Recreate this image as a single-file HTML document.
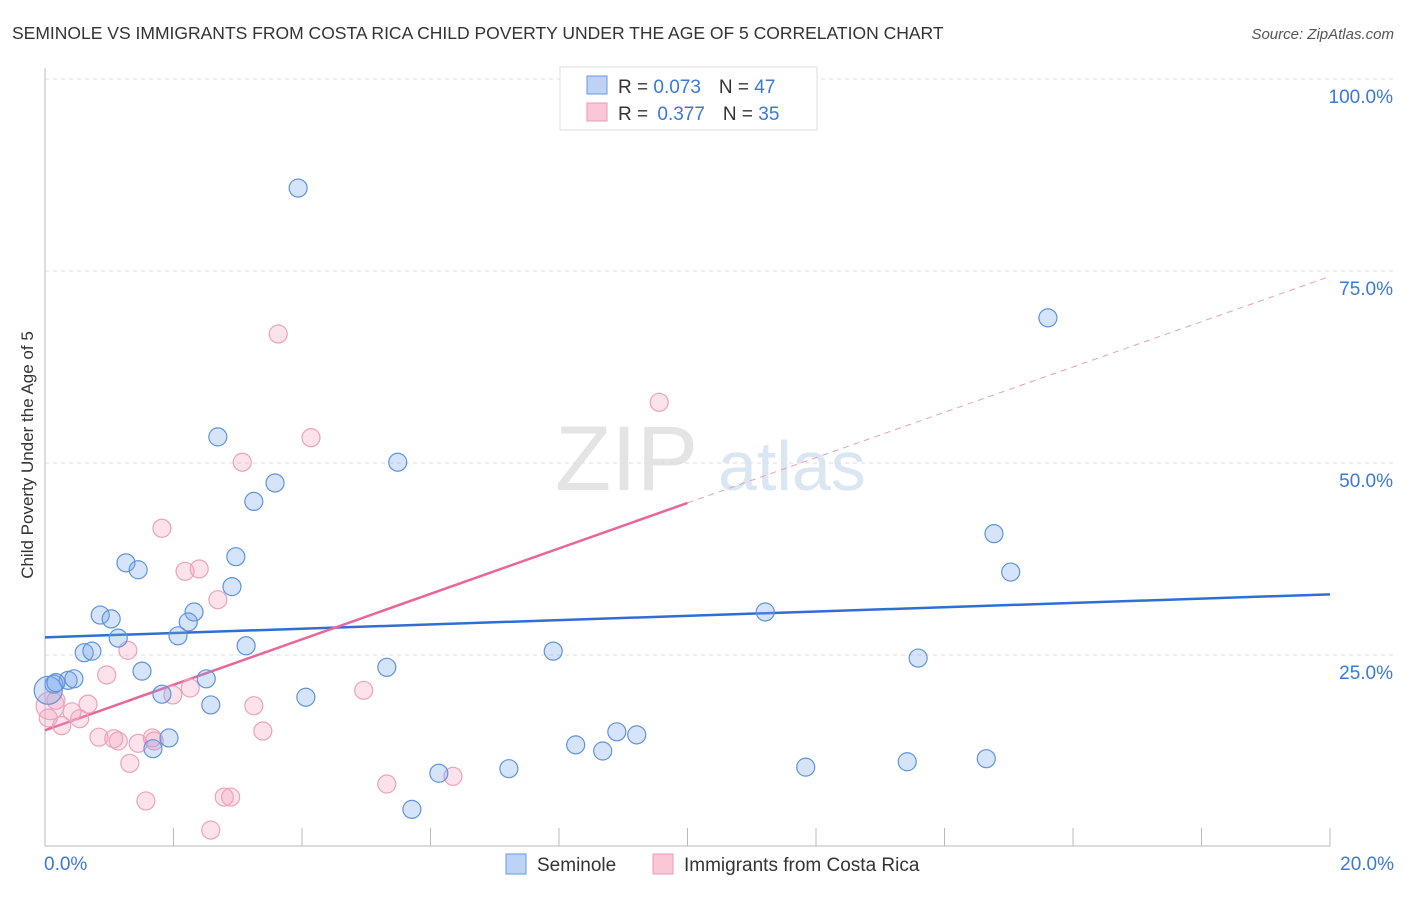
<!DOCTYPE html>
<html><head><meta charset="utf-8"><style>
body{margin:0;background:#fff;font-family:"Liberation Sans",sans-serif;}
svg text{font-family:"Liberation Sans",sans-serif;}
</style></head><body>
<svg id="chart" width="1406" height="892" viewBox="0 0 1406 892" xmlns="http://www.w3.org/2000/svg">
<text x="12" y="39" font-size="17.5" fill="#333">SEMINOLE VS IMMIGRANTS FROM COSTA RICA CHILD POVERTY UNDER THE AGE OF 5 CORRELATION CHART</text>
<text x="1394" y="39" font-size="15" fill="#555" text-anchor="end" font-style="italic">Source: ZipAtlas.com</text>
<text x="555" y="490" font-size="92" fill="#e4e4e4" font-family="Liberation Serif">ZIP</text>
<text x="718" y="490" font-size="70" fill="#dbe6f3">atlas</text>
<g id="grid"></g><g id="axes"></g><g id="lines"></g><g id="points"></g>
<text transform="translate(33,455) rotate(-90)" font-size="17" fill="#333" text-anchor="middle">Child Poverty Under the Age of 5</text>
<g>
<rect x="560" y="67" width="257" height="63" fill="#fff" stroke="#ddd"/>
<rect x="587" y="76" width="20" height="18" fill="#bcd3f5" stroke="#6a9ae0"/>
<rect x="587" y="103" width="20" height="18" fill="#fbc6d6" stroke="#eb9ab5"/>
<text x="618" y="93" font-size="19" fill="#333">R = <tspan fill="#3b78d8">0.073</tspan><tspan dx="18">N = </tspan><tspan fill="#3b78d8">47</tspan></text>
<text x="618" y="120" font-size="19" fill="#333">R = <tspan fill="#3b78d8" dx="4">0.377</tspan><tspan dx="18">N = </tspan><tspan fill="#3b78d8">35</tspan></text>
</g>
<g>
<rect x="506" y="854" width="20" height="20" fill="#bcd3f5" stroke="#6a9ae0"/>
<text x="537" y="871" font-size="19" fill="#333">Seminole</text>
<rect x="653" y="854" width="20" height="20" fill="#fbc6d6" stroke="#eb9ab5"/>
<text x="684" y="871" font-size="19" fill="#333">Immigrants from Costa Rica</text>
</g>
</svg>
<script>
const yTicks=[25,50,75,100];
const yTickLabels=["25.0%","50.0%","75.0%","100.0%"];
const xTicks=[0,2,4,6,8,10,12,14,16,18,20];
const xEndLabels=["0.0%","20.0%"];
const seminoleX=[3.94,2.69,5.49,3.58,3.25,2.97,1.26,1.45,2.91,0.86,2.32,1.03,2.23,1.14,2.07,3.13,0.61,0.73,1.51,5.32,7.91,11.21,15.61,14.77,15.03,13.59,0.36,0.45,0.14,0.05,2.51,1.82,4.06,2.58,1.93,1.68,8.26,8.68,8.90,9.21,6.13,7.22,5.71,11.84,13.42,14.65,0.17];
const seminoleY=[85.8,53.4,50.1,47.4,45.0,37.8,37.0,36.1,33.9,30.2,30.6,29.7,29.3,27.2,27.5,26.2,25.3,25.5,22.9,23.4,25.5,30.6,68.9,40.8,35.8,24.6,21.7,21.9,21.2,20.4,21.9,19.9,19.5,18.5,14.2,12.8,13.3,12.5,15.0,14.6,9.6,10.2,4.9,10.4,11.1,11.5,21.4];
const costaX=[3.63,9.56,4.14,3.07,1.82,2.18,2.40,2.69,1.29,0.96,2.26,1.99,4.96,3.25,3.39,0.67,0.42,0.26,0.54,0.08,0.05,0.84,1.14,1.07,1.45,1.67,1.32,1.70,5.32,6.35,1.57,2.79,2.89,2.58,0.17];
const costaY=[66.8,57.9,53.3,50.1,41.5,35.9,36.2,32.2,25.6,22.4,20.7,19.8,20.4,18.4,15.1,18.6,17.6,15.8,16.7,18.4,16.8,14.3,13.8,14.1,13.5,14.2,10.9,13.8,8.2,9.2,6.0,6.5,6.5,2.2,19.1];
const seminoleTrend=[27.3,32.9];
const costaTrend=[15.2,44.8,74.3];
const X=v=>45+v/20*1285, Y=v=>847-v/100*768;
const NS="http://www.w3.org/2000/svg";
function mk(t,a,p){const e=document.createElementNS(NS,t);for(const k in a)e.setAttribute(k,a[k]);p.appendChild(e);return e;}
const grid=document.getElementById('grid'),axes=document.getElementById('axes'),lines=document.getElementById('lines'),pts=document.getElementById('points');
yTicks.forEach((t,i)=>{
 const l=mk('line',{x1:45,x2:1394,y1:Y(t),y2:Y(t),stroke:'#ddd','stroke-dasharray':'4,4'},grid);
 
 
 const tx=mk('text',{x:1393,y:Y(t)+24,'font-size':19,fill:'#3b78d8','text-anchor':'end'},axes);
 tx.textContent=yTickLabels[i];
 
 
});
mk('line',{x1:45,x2:1394,y1:Y(100),y2:Y(100),stroke:'#ddd','stroke-dasharray':'4,4'},grid);
const ya=mk('line',{x1:45,x2:45,y1:68,y2:846,stroke:'#bbb'},axes);


const xa=mk('line',{x1:45,x2:1330,y1:846,y2:846,stroke:'#bbb'},axes);


xTicks.forEach(t=>{if(t===0)return;const l=mk('line',{x1:X(t),x2:X(t),y1:828,y2:846,stroke:'#bbb'},axes);
 
 });
[[0,'start',44],[20,'end',1394]].forEach((d,i)=>{const tx=mk('text',{x:d[2],y:870,'font-size':19,fill:'#3b78d8','text-anchor':d[1]},axes);tx.textContent=xEndLabels[i];
 
 });
function dot(x,y,r,f,s){const c=mk('circle',{cx:X(x),cy:Y(y),r:r,fill:f,stroke:s,'stroke-width':1.2},pts);return c;}
costaX.forEach((x,i)=>{const c=dot(x,costaY[i],(i===19)?14:9,'rgba(244,160,190,0.3)','#eba3bb');
 
 });
seminoleX.forEach((x,i)=>{const c=dot(x,seminoleY[i],(i===29)?14:9,'rgba(120,165,235,0.3)','#5f93dc');
 
 });
const bl=mk('line',{x1:X(0),y1:Y(seminoleTrend[0]),x2:X(20),y2:Y(seminoleTrend[1]),stroke:'#2f6fd3','stroke-width':2.5},lines);


const pl=mk('line',{x1:X(0),y1:Y(costaTrend[0]),x2:X(10),y2:Y(costaTrend[1]),stroke:'#e8669a','stroke-width':2.5},lines);


const pd=mk('line',{x1:X(10),y1:Y(costaTrend[1]),x2:X(20),y2:Y(costaTrend[2]),stroke:'#e8a0b8','stroke-width':1,'stroke-dasharray':'6,5'},lines);


</script>
</body></html>
